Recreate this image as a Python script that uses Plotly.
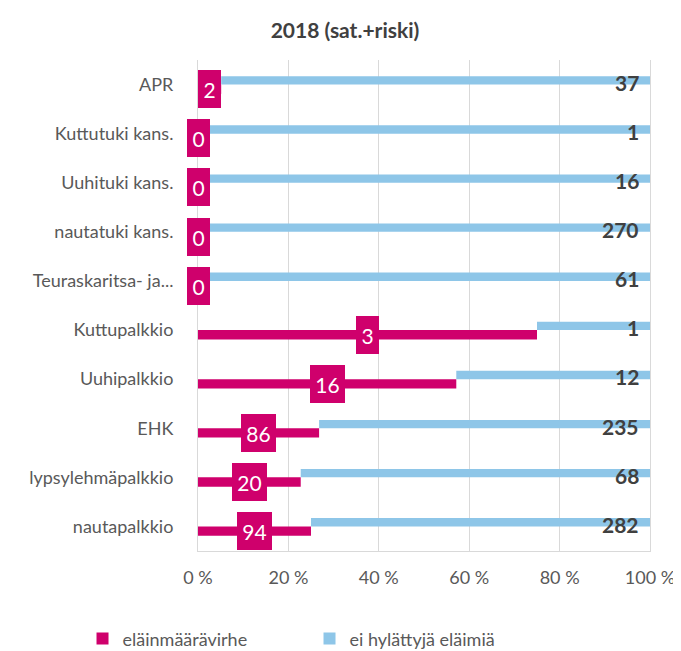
import plotly.graph_objects as go

categories = ["APR", "Kuttutuki kans.", "Uuhituki kans.", "nautatuki kans.",
              "Teuraskaritsa- ja...", "Kuttupalkkio", "Uuhipalkkio", "EHK",
              "lypsylehmäpalkkio", "nautapalkkio"]
errors = [2, 0, 0, 0, 0, 3, 16, 86, 20, 94]          # eläinmäärävirhe
ok_counts = [37, 1, 16, 270, 61, 1, 12, 235, 68, 282]  # ei hylättyjä eläimiä
tick_vals = [0, 20, 40, 60, 80, 100]
tick_text = ["0 %", "20 %", "40 %", "60 %", "80 %", "100 %"]

MAG = "#CF006C"
BLUE = "#8EC6E8"
FONT = "Lato"

pct_err = [100 * e / (e + o) for e, o in zip(errors, ok_counts)]
pct_ok = [100 * o / (e + o) for e, o in zip(errors, ok_counts)]

fig = go.Figure()
fig.add_trace(go.Bar(
    y=categories, x=pct_err, orientation="h", name="eläinmäärävirhe",
    marker=dict(color=MAG, line=dict(width=0)), offset=0, width=0.19,
    hoverinfo="skip"))
fig.add_trace(go.Bar(
    y=categories, x=pct_ok, base=pct_err, orientation="h",
    name="ei hylättyjä eläimiä",
    marker=dict(color=BLUE, line=dict(width=0)), offset=-0.17, width=0.17,
    hoverinfo="skip"))

annotations = []
for i, (e, pe) in enumerate(zip(errors, pct_err)):
    w = 12 * len(str(e)) + 7
    annotations.append(dict(
        x=pe / 2, y=i + 0.095, xref="x", yref="y", text=str(e),
        showarrow=False, bgcolor=MAG, borderpad=2, borderwidth=0,
        width=w, height=34, align="center",
        font=dict(family=FONT, size=21, color="white")))
for i, o in enumerate(ok_counts):
    annotations.append(dict(
        x=100, y=i - 0.085, xref="x", yref="y", text=str(o),
        showarrow=False, xanchor="right", xshift=-9, yshift=-2,
        font=dict(family=FONT, size=21, color="#404040", weight="bold")))

W, H = 673, 643
fig.update_layout(
    width=W, height=H,
    margin=dict(l=190, r=31, t=52, b=100, autoexpand=False),
    paper_bgcolor="white", plot_bgcolor="white",
    barmode="overlay",
    title=dict(text="<b>2018 (sat.+riski)</b>", x=337 / W, xanchor="center",
               y=1 - 23 / H, yanchor="middle",
               font=dict(family=FONT, size=21, color="#404040")),
    font=dict(family=FONT, color="#595959"),
    xaxis=dict(range=[0, 100], tickvals=tick_vals, ticktext=tick_text,
               showgrid=True, gridcolor="#D9D9D9", gridwidth=1,
               showline=True, linecolor="#D9D9D9", linewidth=1,
               zeroline=False, ticks="", ticklabelstandoff=10,
               automargin=False,
               tickfont=dict(family=FONT, size=18, color="#595959"),
               fixedrange=True),
    yaxis=dict(autorange="reversed", showgrid=False, zeroline=False,
               showline=True, linecolor="#D9D9D9", linewidth=1, mirror=True,
               ticks="", ticklabelstandoff=20, automargin=False,
               tickfont=dict(family=FONT, size=18, color="#595959"),
               fixedrange=True),
    legend=dict(orientation="h", x=-0.2555, xanchor="left", y=-0.179,
                yanchor="middle", entrywidth=182, entrywidthmode="pixels",
                font=dict(family=FONT, size=18, color="#595959")),
    annotations=annotations,
    showlegend=True,
)

fig.write_html("out.html")
